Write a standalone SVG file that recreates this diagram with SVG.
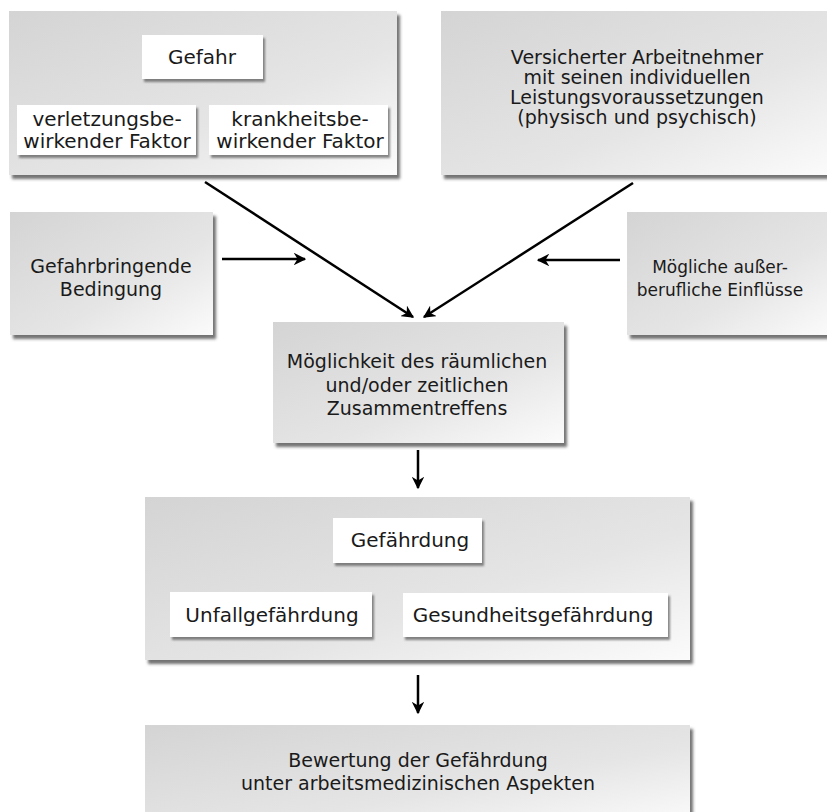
<svg xmlns="http://www.w3.org/2000/svg" width="827" height="812" viewBox="0 0 827 812">
<style>
text{font-family:"DejaVu Sans","Noto Sans",sans-serif;font-size:19px;fill:#1a1a1a;text-anchor:middle}
text.i{font-size:20px}
text.s{font-size:17px}
.c{fill:url(#g);filter:url(#sh)}
.w{fill:#ffffff;filter:url(#sh2)}
.a{stroke:#000;stroke-width:2.5;fill:none;marker-end:url(#ah)}
</style>
<defs>
<linearGradient id="g" x1="0" y1="0" x2="1" y2="1">
<stop offset="0" stop-color="#d4d4d4"/>
<stop offset="0.6" stop-color="#e5e5e5"/>
<stop offset="1" stop-color="#fbfbfb"/>
</linearGradient>
<filter id="sh" x="-5%" y="-5%" width="115%" height="120%">
<feDropShadow dx="3" dy="4" stdDeviation="1.5" flood-color="#444" flood-opacity="0.75"/>
</filter>
<filter id="sh2" x="-5%" y="-10%" width="115%" height="130%">
<feDropShadow dx="2" dy="3" stdDeviation="1" flood-color="#555" flood-opacity="0.7"/>
</filter>
<marker id="ah" viewBox="0 0 10 10" refX="9" refY="5" markerWidth="5" markerHeight="5" orient="auto" markerUnits="strokeWidth">
<path d="M0,0 L10,5 L0,10 L3,5 z" fill="#000"/>
</marker>
</defs>

<g id="gefahr">
<rect class="c" x="9" y="11" width="388" height="164"/>
<rect class="w" x="142" y="35" width="121" height="44"/>
<text class="i" x="202" y="64">Gefahr</text>
<rect class="w" x="17" y="105" width="179" height="50"/>
<text class="i" x="107" y="126">verletzungsbe-</text>
<text class="i" x="107" y="148">wirkender Faktor</text>
<rect class="w" x="209" y="105" width="179" height="50"/>
<text class="i" x="300" y="126">krankheitsbe-</text>
<text class="i" x="300" y="148">wirkender Faktor</text>
</g>

<g id="versicherter">
<rect class="c" x="441" y="11" width="392" height="164"/>
<text x="637" y="64">Versicherter Arbeitnehmer</text>
<text x="637" y="84">mit seinen individuellen</text>
<text x="637" y="104">Leistungsvoraussetzungen</text>
<text x="637" y="124">(physisch und psychisch)</text>
</g>

<g id="bedingung">
<rect class="c" x="10" y="212" width="203" height="123"/>
<text x="111" y="273">Gefahrbringende</text>
<text x="111" y="296">Bedingung</text>
</g>

<g id="einfluesse">
<rect class="c" x="627" y="212" width="206" height="123"/>
<text class="s" x="720" y="273">Mögliche außer-</text>
<text class="s" x="720" y="296">berufliche Einflüsse</text>
</g>

<g id="zusammentreffen">
<rect class="c" x="273" y="322" width="291" height="121"/>
<text x="417" y="368">Möglichkeit des räumlichen</text>
<text x="417" y="392">und/oder zeitlichen</text>
<text x="417" y="415">Zusammentreffens</text>
</g>

<g id="gefaehrdung">
<rect class="c" x="145" y="497" width="545" height="163"/>
<rect class="w" x="333" y="518" width="149" height="45"/>
<text class="i" x="410" y="547">Gefährdung</text>
<rect class="w" x="170" y="592" width="202" height="45"/>
<text class="i" x="272" y="622">Unfallgefährdung</text>
<rect class="w" x="403" y="593" width="265" height="44"/>
<text class="i" x="533" y="622">Gesundheitsgefährdung</text>
</g>

<g id="bewertung">
<rect class="c" x="145" y="725" width="545" height="100"/>
<text x="418" y="767">Bewertung der Gefährdung</text>
<text x="418" y="790">unter arbeitsmedizinischen Aspekten</text>
</g>

<g id="connectors">
<line class="a" x1="205" y1="182" x2="413" y2="317"/>
<line class="a" x1="633" y1="183" x2="424" y2="317"/>
<line class="a" x1="222" y1="259" x2="305" y2="259"/>
<line class="a" x1="620" y1="260" x2="538" y2="260"/>
<line class="a" x1="418" y1="450" x2="418" y2="488"/>
<line class="a" x1="418" y1="675" x2="418" y2="713"/>
</g>
</svg>
